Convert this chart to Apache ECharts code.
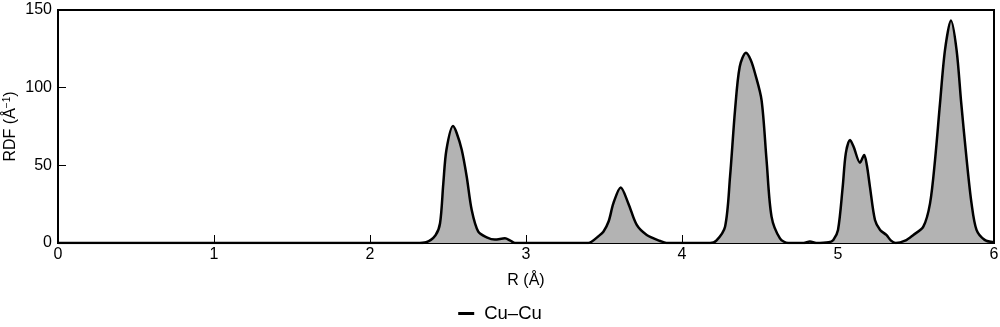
<!DOCTYPE html>
<html>
<head>
<meta charset="utf-8">
<script src="https://cdn.jsdelivr.net/npm/echarts@6/dist/echarts.min.js"></script>
<style>
  html, body { margin: 0; padding: 0; background: #fff; }
  #chart { width: 1000px; height: 327px; }
</style>
</head>
<body>
<div id="chart"></div>
<script>
// R values (Å) and RDF values
var rx = [0, 2.30, 2.36, 2.42, 2.449, 2.47, 2.49, 2.532, 2.555, 2.588, 2.62, 2.652, 2.694, 2.748, 2.80, 2.865, 2.90, 2.93,
          3.40, 3.42, 3.46, 3.496, 3.53, 3.56, 3.607, 3.656, 3.71, 3.774, 3.86, 3.90,
          4.18, 4.22, 4.276, 4.308, 4.34, 4.37, 4.41, 4.44, 4.468, 4.51, 4.542, 4.574, 4.628, 4.68,
          4.78, 4.82, 4.86, 4.94, 4.97, 5.0, 5.03, 5.05, 5.077, 5.10, 5.141, 5.168, 5.185, 5.205, 5.237, 5.27, 5.31, 5.34, 5.37,
          5.43, 5.483, 5.547, 5.59, 5.622, 5.654, 5.686, 5.724, 5.76, 5.79, 5.825, 5.856, 5.888, 5.94, 6.0];
var rdf = [0, 0, 0.5, 5, 12.7, 38.4, 60, 75.3, 71, 60, 42.7, 21.2, 7.3, 3.7, 2.2, 3, 1.5, 0,
           0, 0.8, 4, 7.3, 14, 25.5, 35.8, 25.5, 11.6, 5.2, 1.3, 0,
           0, 1.5, 10.5, 42.7, 85.6, 113.5, 122.5, 118, 109.3, 92, 53.4, 17, 3, 0,
           0, 1, 0, 0.5, 2, 8.4, 36, 57.7, 66.3, 62, 51.7, 56.7, 50, 36, 14.8, 8.4, 5.2, 1.5, 0,
           1.5, 5.2, 10.5, 25.5, 53.4, 90, 124.3, 143.2, 124.3, 90, 53.4, 25.5, 8.4, 2, 0.5];
var xTicks = [0, 1, 2, 3, 4, 5, 6];
var yTicks = [0, 50, 100, 150];
var seriesName = 'Cu–Cu';

var points = rx.map(function (x, i) { return [x, rdf[i]]; });

var chart = echarts.init(document.getElementById('chart'));
var font = 'Liberation Sans, Arial, sans-serif';
chart.setOption({
  animation: false,
  grid: {
    left: 58, right: 6, top: 10, bottom: 84,
    outerBoundsMode: 'none', containLabel: false,
    show: true, borderColor: '#000', borderWidth: 2
  },
  legend: {
    top: 299, left: 'center',
    data: [seriesName],
    icon: 'rect', itemWidth: 16, itemHeight: 3, itemGap: 10,
    textStyle: { fontFamily: font, fontSize: 18.5, color: '#000', padding: [0, 0, 0, 5] }
  },
  xAxis: {
    type: 'value', min: xTicks[0], max: xTicks[xTicks.length - 1], interval: 1,
    name: 'R (Å)', nameLocation: 'middle', nameGap: 30, nameMoveOverlap: false,
    nameTextStyle: { fontFamily: font, fontSize: 16, color: '#000' },
    axisLine: { lineStyle: { color: '#000', width: 2 } },
    axisTick: { inside: true, length: 8, lineStyle: { color: '#000', width: 1 } },
    axisLabel: { fontFamily: font, fontSize: 16, color: '#000', margin: 4 },
    splitLine: { show: false }
  },
  yAxis: {
    type: 'value', min: yTicks[0], max: yTicks[yTicks.length - 1], interval: 50,
    name: 'RDF (Å{sup|−1})', nameLocation: 'middle', nameGap: 38, nameMoveOverlap: false,
    nameTextStyle: {
      fontFamily: font, fontSize: 16, color: '#000',
      rich: { sup: { fontFamily: font, fontSize: 10, color: '#000', verticalAlign: 'top', lineHeight: 18 } }
    },
    axisLine: { show: true, lineStyle: { color: '#000', width: 2 } },
    axisTick: { show: true, inside: true, length: 8, lineStyle: { color: '#000', width: 1 } },
    axisLabel: { fontFamily: font, fontSize: 16, color: '#000', margin: 6 },
    splitLine: { show: false }
  },
  series: [{
    name: seriesName,
    type: 'line',
    data: points,
    smooth: 0.3,
    symbol: 'none',
    itemStyle: { color: '#000' },
    lineStyle: { color: '#000', width: 2.5 },
    areaStyle: { color: '#b3b3b3', opacity: 1 }
  }]
});
</script>
</body>
</html>
